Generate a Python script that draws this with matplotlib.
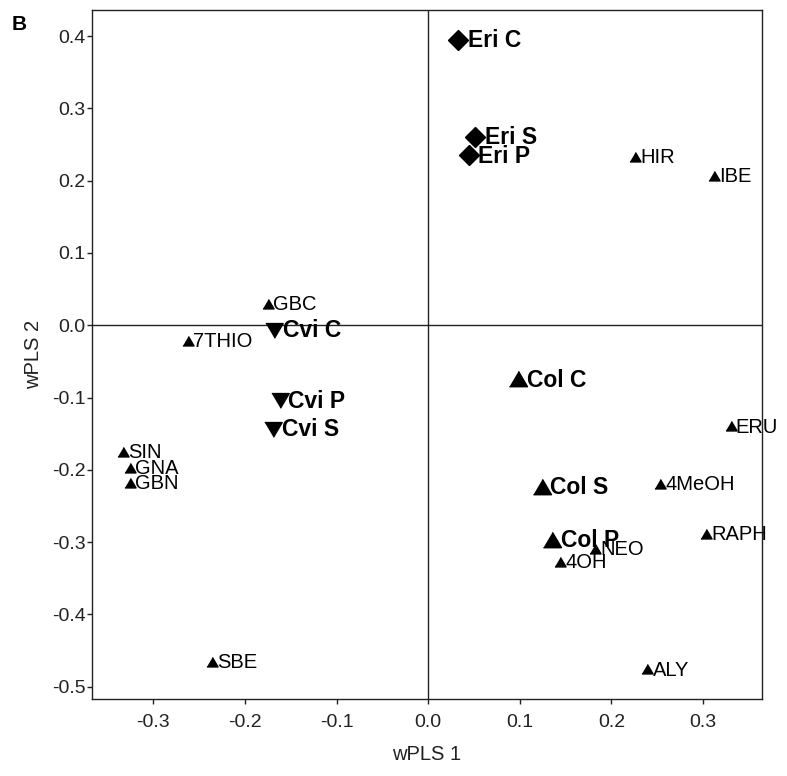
import numpy as np
import matplotlib
matplotlib.use('Agg')
import matplotlib.pyplot as plt

plt.rcParams['font.family'] = ['Liberation Sans', 'DejaVu Sans']

# glucosinolate loadings (small triangles)
gsl_names = ['GBC', '7THIO', 'SIN', 'GNA', 'GBN', 'SBE', 'HIR', 'IBE',
             'ERU', '4MeOH', 'RAPH', 'NEO', '4OH', 'ALY']
gsl_x = [-0.175, -0.262, -0.333, -0.326, -0.326, -0.236, 0.226, 0.312,
         0.330, 0.253, 0.303, 0.182, 0.144, 0.239]
gsl_y = [0.029, -0.022, -0.175, -0.197, -0.218, -0.466, 0.233, 0.206,
         -0.140, -0.219, -0.289, -0.309, -0.327, -0.476]

# sample scores
col_names = ['Col C', 'Col S', 'Col P']
col_x = [0.098, 0.124, 0.135]
col_y = [-0.075, -0.224, -0.297]

cvi_names = ['Cvi C', 'Cvi P', 'Cvi S']
cvi_x = [-0.168, -0.162, -0.169]
cvi_y = [-0.007, -0.104, -0.143]

eri_names = ['Eri C', 'Eri S', 'Eri P']
eri_x = [0.033, 0.051, 0.044]
eri_y = [0.395, 0.261, 0.235]

tri_up = [(-1, -0.8), (1, -0.8), (0, 0.9)]
tri_down = [(-1, 0.8), (1, 0.8), (0, -0.9)]

fig = plt.figure(figsize=(7.87, 7.76), dpi=100)
ax = fig.add_axes([0.1169, 0.0992, 0.851, 0.8879])

ax.axhline(0, color='#222222', lw=1.0, zorder=1)
ax.axvline(0, color='#222222', lw=1.0, zorder=1)


def addGroup(xs, ys, names, marker, ms, off, fs, weight):
	ax.plot(xs, ys, ls='none', marker=marker, ms=ms, color='black', zorder=3)
	for i in range(0, len(names)):
		ax.annotate(names[i], (xs[i], ys[i]), xytext=(off, -0.5), textcoords='offset points',
					ha='left', va='center', fontsize=fs, fontweight=weight, zorder=4)


addGroup(col_x, col_y, col_names, tri_up, 13, 6.2, 16.5, 'bold')
addGroup(cvi_x, cvi_y, cvi_names, tri_down, 12.5, 6.0, 16.5, 'bold')
addGroup(eri_x, eri_y, eri_names, 'D', 10.5, 7.0, 16.5, 'bold')
addGroup(gsl_x, gsl_y, gsl_names, tri_up, 8, 3.8, 14.5, 'normal')

ax.set_xlim([-0.367, 0.364])
ax.set_ylim([-0.517, 0.436])
ax.set_xticks(np.round(np.arange(-0.3, 0.31, 0.1), 1))
ax.set_yticks(np.round(np.arange(-0.5, 0.41, 0.1), 1))
ax.set_xticklabels(['%.1f' % v for v in np.round(np.arange(-0.3, 0.31, 0.1), 1) + 0.0])
ax.set_yticklabels(['%.1f' % v for v in np.round(np.arange(-0.5, 0.41, 0.1), 1) + 0.0])
ax.tick_params(axis='both', direction='out', length=3.6, width=1.0, labelsize=14, colors='#222222')
ax.tick_params(axis='x', pad=7)
ax.tick_params(axis='y', pad=1)
for s in ax.spines.values():
	s.set_color('#222222')
	s.set_linewidth(1.0)

ax.set_xlabel('wPLS 1', fontsize=14.5, labelpad=10, color='#222222')
ax.set_ylabel('wPLS 2', fontsize=14.5, labelpad=6, color='#222222')

fig.text(0.015, 1 - 25 / 776.0, 'B', fontsize=15, fontweight='bold', va='center', ha='left')

plt.savefig('out.png', dpi=100)
